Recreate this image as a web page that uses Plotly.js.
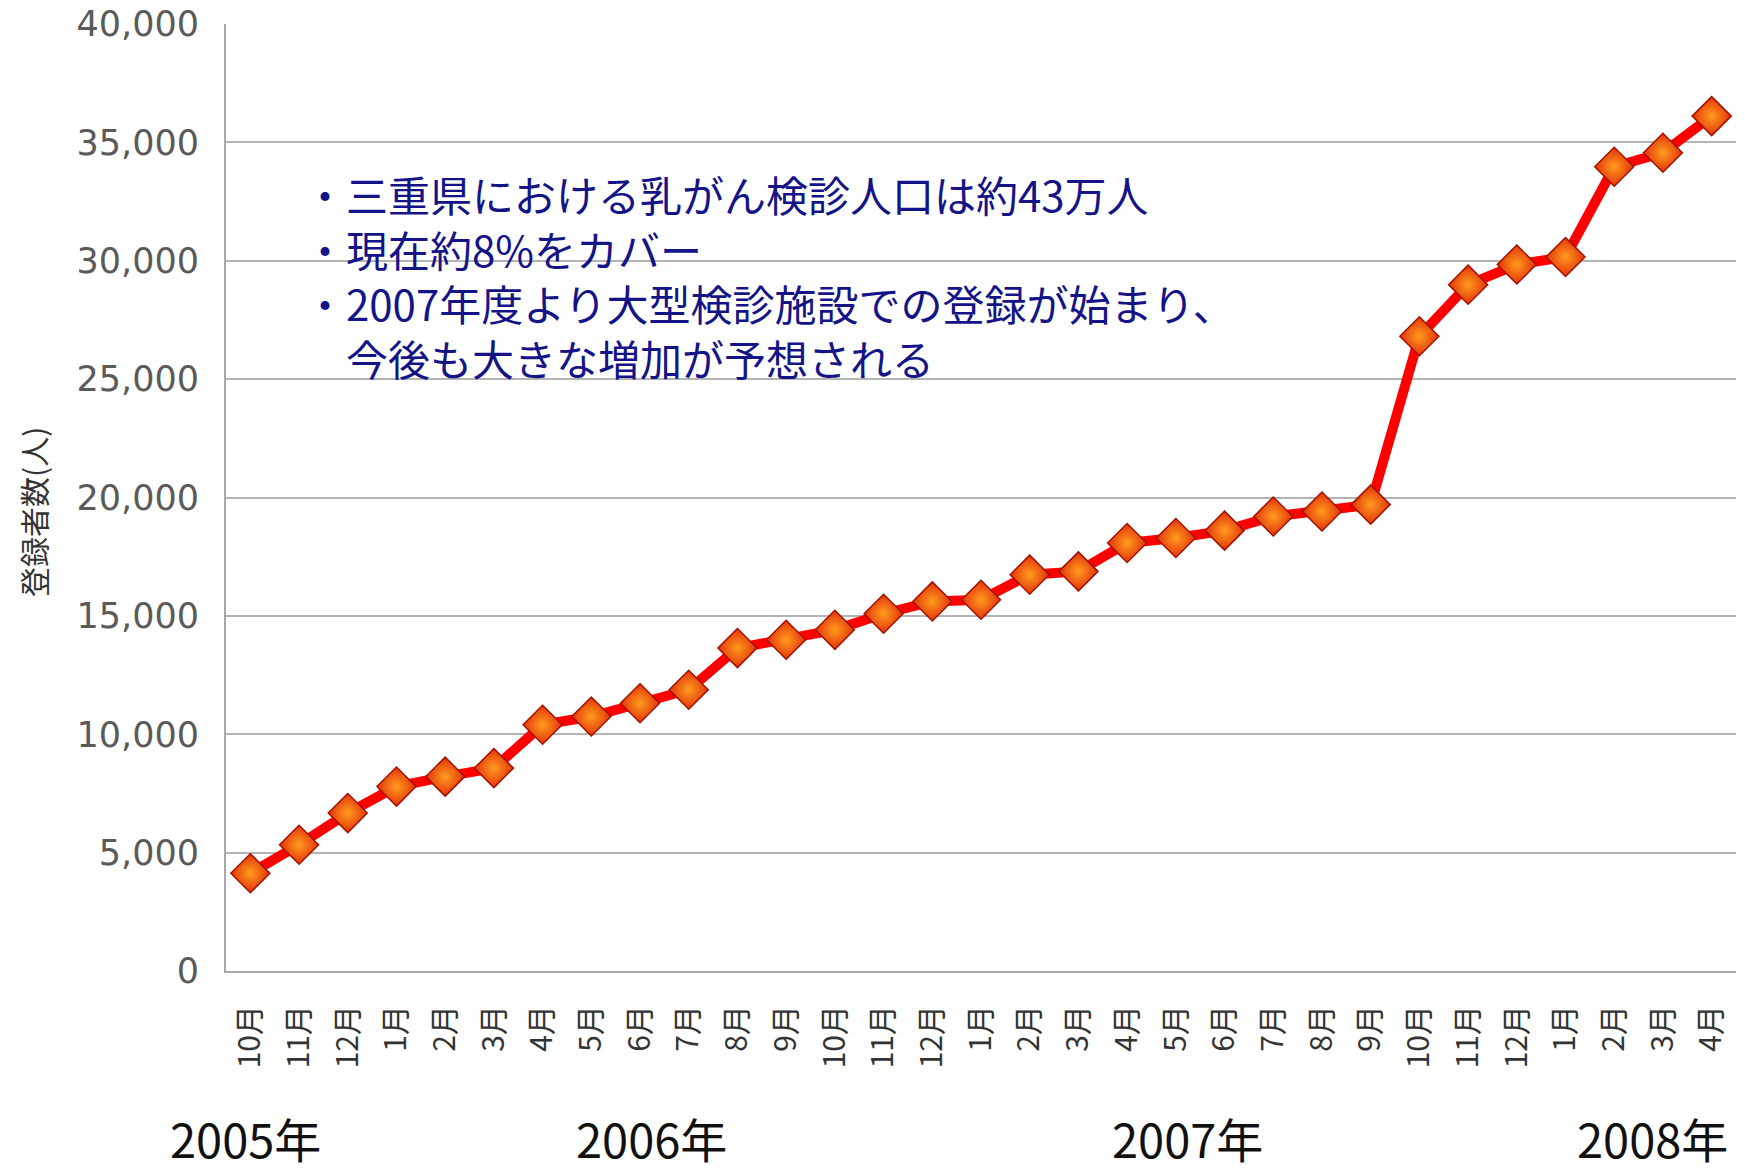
<!DOCTYPE html>
<html>
<head>
<meta charset="utf-8">
<script src="https://cdn.plot.ly/plotly-3.0.1.min.js"></script>
<style>
  html, body { margin: 0; padding: 0; background: #ffffff; }
  #chart { width: 1745px; height: 1171px; }
</style>
</head>
<body>
<div id="chart"></div>
<script>
// ---- data ----
const monthLabels = ["10月","11月","12月","1月","2月","3月","4月","5月","6月","7月","8月","9月",
                     "10月","11月","12月","1月","2月","3月","4月","5月","6月","7月","8月","9月",
                     "10月","11月","12月","1月","2月","3月","4月"];
const registrants = [4130, 5330, 6670, 7790, 8210, 8570, 10400, 10750, 11310, 11880, 13640, 13990,
                     14410, 15090, 15610, 15680, 16740, 16880, 18080, 18290, 18600, 19200, 19410, 19700,
                     26810, 28990, 29840, 30160, 33970, 34560, 36110];
const yearLabels = ["2005年", "2006年", "2007年", "2008年"];
const yAxisTitle = "登録者数(人)";
const noteLines = [
  "・三重県における乳がん検診人口は約43万人",
  "・現在約8%をカバー",
  "・2007年度より大型検診施設での登録が始まり、",
  "　今後も大きな増加が予想される"
];

// ---- layout-only positions ----
const yearPosX = [-0.11, 8.23, 19.23, 28.78];

const idx = monthLabels.map((_, i) => i);

const trace = {
  type: "scatter",
  mode: "lines+markers",
  x: idx,
  y: registrants,
  line: { color: "#ff0000", width: 10 },
  marker: {
    symbol: "diamond",
    size: 30,
    color: "#e3320a",
    gradient: { type: "radial", color: "#ff9c1e" },
    line: { color: "#a31200", width: 1.5 }
  },
  hoverinfo: "skip",
  showlegend: false
};

const annotations = [];
yearLabels.forEach((t, i) => {
  annotations.push({
    text: t, xref: "x", yref: "paper", x: yearPosX[i], y: -0.176,
    xanchor: "center", yanchor: "middle", showarrow: false,
    font: { family: "Noto Sans CJK JP, sans-serif", size: 47, color: "#111111" }
  });
});
annotations.push({
  text: noteLines.join("<br>"), xref: "paper", yref: "paper", x: 0.050, y: 0.734,
  xanchor: "left", yanchor: "middle", align: "left", showarrow: false,
  font: { family: "Noto Sans CJK JP, sans-serif", size: 42, color: "#141488" }
});
annotations.push({
  text: yAxisTitle, xref: "paper", yref: "paper", x: -0.1278, y: 0.4847,
  xanchor: "center", yanchor: "middle", textangle: -90, showarrow: false,
  font: { family: "Noto Sans CJK JP, sans-serif", size: 30, color: "#333333" }
});

const layout = {
  width: 1745,
  height: 1171,
  paper_bgcolor: "#ffffff",
  plot_bgcolor: "#ffffff",
  margin: { l: 226, r: 9, t: 24, b: 200 },
  xaxis: {
    range: [-0.5, monthLabels.length - 0.5],
    tickvals: idx,
    ticktext: monthLabels,
    tickangle: -90,
    showgrid: false,
    zeroline: false,
    showline: true,
    linecolor: "#a8a8a8",
    linewidth: 2,
    ticks: "",
    ticklabelstandoff: 20,
    tickfont: { family: "Noto Sans CJK JP, sans-serif", size: 30, color: "#333333" },
    fixedrange: true
  },
  yaxis: {
    range: [0, 40000],
    dtick: 5000,
    tick0: 0,
    tickformat: ",d",
    showgrid: true,
    gridcolor: "#b4b4b4",
    gridwidth: 2,
    zeroline: false,
    showline: true,
    linecolor: "#a8a8a8",
    linewidth: 2,
    ticks: "",
    ticklabelstandoff: 18,
    tickfont: { family: "DejaVu Sans, sans-serif", size: 35, color: "#5a5a5a" },
    fixedrange: true
  },
  shapes: [{
    type: "rect", xref: "paper", yref: "paper",
    x0: 0.0358, x1: 0.716, y0: 0.5818, y1: 0.8617,
    fillcolor: "#ffffff", line: { width: 0 }, layer: "between"
  }],
  annotations: annotations
};

Plotly.newPlot("chart", [trace], layout, { displayModeBar: false, staticPlot: true });
</script>
</body>
</html>
